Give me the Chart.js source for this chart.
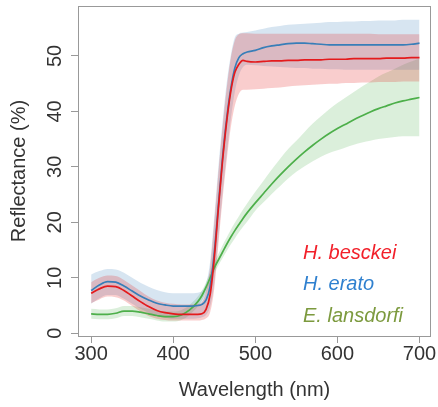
<!DOCTYPE html>
<html lang="en">
<head>
  <meta charset="utf-8">
  <script src="https://cdn.jsdelivr.net/npm/chart.js@4.4.1/dist/chart.umd.min.js"></script>
  <style>
    html, body { margin: 0; padding: 0; background: #fff; overflow: hidden; }
    .wrap { width: 438px; height: 407px; position: relative; }
  </style>
</head>
<body>
  <div class="wrap"><canvas id="spectra"></canvas></div>

  <script>
    // wavelength samples (nm); finer steps through the steep rise
    const wavelengths = [300,310,320,330,340,350,360,370,380,390,400,410,420,430,435,440,445,450,455,460,465,470,475,480,485,490,500,510,520,530,540,550,560,570,580,590,600,610,620,630,640,650,660,670,680,690,700];

    // H. besckei
    const besckeiMean = [7.2,8.0,8.5,8.4,7.7,6.7,5.7,4.8,4.1,3.7,3.5,3.4,3.4,3.4,3.5,4.3,7.0,13.5,22.5,31.0,38.0,43.5,47.0,48.5,49.2,49.0,48.9,49.0,49.1,49.1,49.2,49.2,49.3,49.3,49.3,49.4,49.4,49.4,49.5,49.5,49.5,49.5,49.6,49.6,49.6,49.7,49.7];
    const besckeiHi = [9.2,10.0,10.4,10.3,9.6,8.6,7.6,6.6,5.9,5.5,5.3,5.2,5.2,5.3,5.6,7.5,12.0,20.0,29.0,37.0,44.0,49.5,52.8,53.9,54.1,54.1,54.0,54.0,54.0,54.0,54.0,54.0,54.0,54.0,54.0,54.0,54.0,54.0,54.0,54.0,54.0,53.9,53.9,53.9,53.9,53.9,53.9];
    const besckeiLo = [5.4,6.1,6.6,6.5,5.9,4.9,3.9,3.1,2.6,2.4,2.3,2.3,2.3,2.3,2.4,2.7,3.8,8.0,16.0,24.0,31.0,37.0,41.0,43.2,43.9,43.9,44.0,44.1,44.2,44.3,44.5,44.6,44.7,44.8,44.9,45.0,45.0,45.1,45.1,45.2,45.2,45.3,45.3,45.3,45.4,45.4,45.4];

    // H. erato
    const eratoMean = [7.7,8.7,9.3,9.2,8.5,7.6,6.7,6.0,5.4,5.1,4.9,4.9,4.9,5.0,5.2,6.0,8.5,14.5,23.0,31.5,38.5,44.0,47.8,49.7,50.4,50.7,51.0,51.5,51.8,52.0,52.2,52.3,52.3,52.2,52.1,52.0,52.0,52.0,52.0,52.0,52.0,52.0,52.0,52.0,52.0,52.1,52.3];
    const eratoHi = [10.6,11.2,11.6,11.5,10.9,10.0,9.1,8.4,7.8,7.4,7.2,7.2,7.2,7.3,7.6,9.0,13.0,21.0,30.0,38.0,45.0,50.0,53.3,54.0,54.2,54.3,54.6,54.9,55.2,55.4,55.6,55.7,55.8,55.9,56.0,56.1,56.1,56.2,56.2,56.3,56.3,56.4,56.4,56.4,56.5,56.5,56.5];
    const eratoLo = [5.3,6.3,6.9,6.9,6.2,5.3,4.4,3.7,3.1,2.8,2.6,2.6,2.6,2.7,2.9,3.3,4.8,9.0,17.0,25.0,32.0,38.5,43.5,46.5,48.0,48.4,48.3,48.2,48.1,48.0,47.9,47.8,47.8,47.7,47.7,47.6,47.6,47.5,47.5,47.5,47.5,47.5,47.5,47.5,47.5,47.5,47.5];

    // E. lansdorfi
    const lansdorfiMean = [3.5,3.4,3.4,3.6,4.0,4.0,3.8,3.5,3.2,3.0,3.0,3.3,4.2,5.7,6.8,8.3,10.0,11.8,13.2,14.6,16.0,17.3,18.5,19.6,20.7,21.7,23.5,25.2,26.9,28.5,30.0,31.4,32.7,33.9,35.0,36.0,36.9,37.7,38.5,39.2,39.9,40.5,41.0,41.5,41.9,42.2,42.5];
    const lansdorfiHi = [4.4,4.3,4.3,4.5,4.9,4.9,4.7,4.4,4.1,3.9,3.9,4.2,5.1,6.6,7.7,9.2,11.0,12.8,14.3,15.8,17.2,18.6,19.9,21.1,22.3,23.4,25.5,27.5,29.5,31.4,33.2,34.7,36.3,37.8,39.1,40.4,41.5,42.5,43.5,44.5,45.4,46.3,47.0,47.7,48.4,49.0,49.5];
    const lansdorfiLo = [2.6,2.5,2.5,2.7,3.1,3.1,2.9,2.6,2.3,2.1,2.1,2.4,3.3,4.8,5.9,7.4,9.1,10.9,12.2,13.5,14.8,16.0,17.1,18.2,19.2,20.1,22.1,23.6,25.1,26.5,27.9,29.1,30.1,31.0,31.8,32.5,33.0,33.5,34.0,34.4,34.7,35.0,35.2,35.4,35.5,35.5,35.5];

    const xTicks = [300, 400, 500, 600, 700];
    const yTicks = [0, 10, 20, 30, 40, 50];
    const legendLabels = ['H. besckei', 'H. erato', 'E. lansdorfi'];

    const RED = '#E41A1C', BLUE = '#377EB8', GREEN = '#4DAF4A';
    const TEXT = '#333333';
    const FONT = '"Liberation Sans", Arial, sans-serif';

    const pts = arr => wavelengths.map((w, i) => ({ x: w, y: arr[i] }));

    function meanLine(arr, color) {
      return { data: pts(arr), borderColor: color, borderWidth: 1.7, pointRadius: 0, fill: false };
    }
    function bandEdge(arr, fillColor) {
      return {
        data: pts(arr), borderWidth: 0, borderColor: 'rgba(0,0,0,0)', pointRadius: 0,
        fill: fillColor ? '-1' : false, backgroundColor: fillColor || 'rgba(0,0,0,0)'
      };
    }

    // box, rotated y labels, axis titles and the coloured legend text
    const decor = {
      id: 'decor',
      afterDraw(chart) {
        const { ctx, chartArea: a, scales } = chart;
        ctx.save();
        ctx.strokeStyle = '#999999';
        ctx.lineWidth = 1;
        ctx.strokeRect(a.left + 0.5, a.top + 0.5, a.right - a.left - 1, a.bottom - a.top);

        ctx.fillStyle = TEXT;
        ctx.font = '20px ' + FONT;
        ctx.textAlign = 'center';
        ctx.textBaseline = 'middle';
        xTicks.forEach(v => ctx.fillText(String(v), scales.x.getPixelForValue(v), 354));
        yTicks.forEach(v => {
          ctx.save();
          ctx.translate(55, scales.y.getPixelForValue(v));
          ctx.rotate(-Math.PI / 2);
          ctx.fillText(String(v), 0, 0);
          ctx.restore();
        });
        ctx.fillText('Wavelength (nm)', (a.left + a.right) / 2, 390);
        ctx.save();
        ctx.translate(19, (a.top + a.bottom) / 2);
        ctx.rotate(-Math.PI / 2);
        ctx.fillText('Reflectance (%)', 0, 0);
        ctx.restore();

        ctx.font = 'italic 20px ' + FONT;
        ctx.textAlign = 'left';
        const legendColors = ['#F2202A', '#2F80CF', '#7C9A3E'];
        legendLabels.forEach((t, i) => {
          ctx.fillStyle = legendColors[i];
          ctx.fillText(t, 303, 253 + i * 31.5);
        });
        ctx.restore();
      }
    };

    new Chart(document.getElementById('spectra'), {
      type: 'line',
      data: {
        datasets: [
          meanLine(besckeiMean, RED),
          meanLine(eratoMean, BLUE),
          meanLine(lansdorfiMean, GREEN),
          bandEdge(besckeiLo),
          bandEdge(besckeiHi, 'rgba(228,26,28,0.22)'),
          bandEdge(eratoLo),
          bandEdge(eratoHi, 'rgba(55,126,184,0.2)'),
          bandEdge(lansdorfiLo),
          bandEdge(lansdorfiHi, 'rgba(77,175,74,0.2)')
        ]
      },
      options: {
        responsive: true,
        maintainAspectRatio: false,
        animation: false,
        layout: { padding: { top: 6, right: 7, left: 0, bottom: 0 } },
        elements: { line: { cubicInterpolationMode: 'monotone' } },
        plugins: {
          legend: { display: false },
          tooltip: { enabled: false },
          filler: { drawTime: 'beforeDatasetsDraw' }
        },
        scales: {
          x: {
            type: 'linear', min: 284, max: 714,
            afterBuildTicks: s => { s.ticks = xTicks.map(v => ({ value: v })); },
            afterFit: s => { s.height = 71; },
            ticks: { display: false },
            grid: { drawOnChartArea: false, drawTicks: true, tickLength: 7, color: '#999999' },
            border: { display: false }
          },
          y: {
            type: 'linear', min: -0.5, max: 59,
            afterBuildTicks: s => { s.ticks = yTicks.map(v => ({ value: v })); },
            afterFit: s => { s.width = 78; },
            ticks: { display: false },
            grid: { drawOnChartArea: false, drawTicks: true, tickLength: 7, color: '#999999' },
            border: { display: false }
          }
        }
      },
      plugins: [decor]
    });
  </script>
</body>
</html>
